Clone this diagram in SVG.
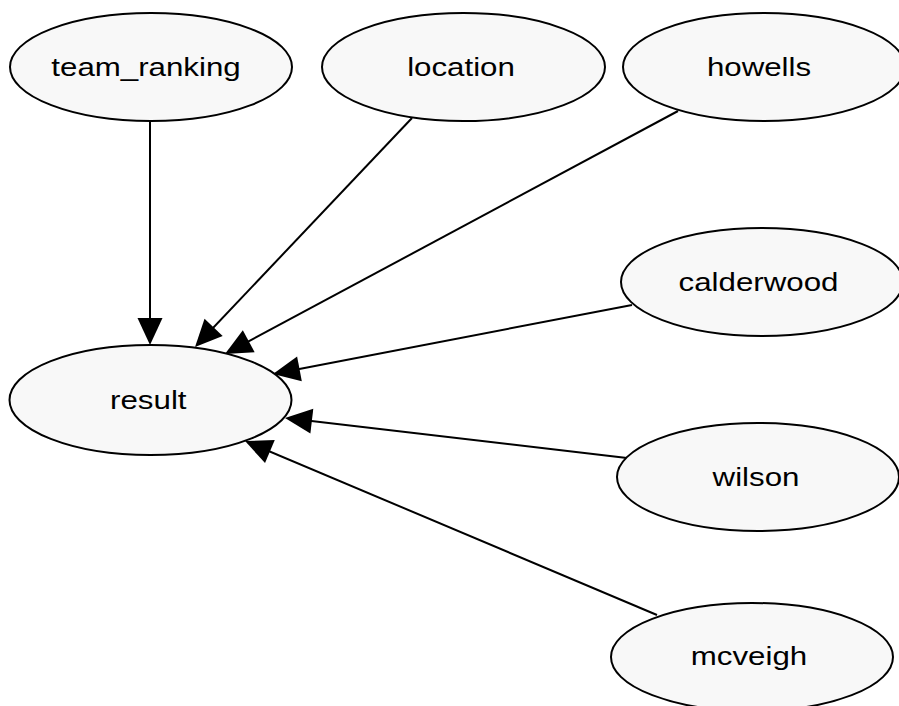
<svg xmlns="http://www.w3.org/2000/svg" width="899" height="706" viewBox="0 0 899 706">
  <style>
    .node ellipse { fill: #f8f8f8; stroke: #000; stroke-width: 2; }
    .node text { font-family: "Liberation Sans", Arial, sans-serif; font-size: 26.5px; fill: #000; text-anchor: middle; }
    .edge { fill: none; stroke: #000; stroke-width: 2; marker-end: url(#arrow); }
  </style>
  <defs>
    <marker id="arrow" markerUnits="userSpaceOnUse" markerWidth="30" markerHeight="30" refX="24" refY="12.5" orient="auto" overflow="visible">
      <path d="M0,0 L27,12.5 L0,25 Z" fill="#000"/>
    </marker>
  </defs>
  <rect width="899" height="706" fill="#fff"/>

  <g id="edges">
    <path class="edge" d="M150,121 L150,342"/>
    <path class="edge" d="M412,118 L197.1,344.8"/>
    <path class="edge" d="M678,111 L227.6,352.6"/>
    <path class="edge" d="M632,305 L275.9,373.4"/>
    <path class="edge" d="M627,458 L288,418.3"/>
    <path class="edge" d="M657,615 L247.8,442.2"/>
  </g>

  <g id="team_ranking" class="node">
    <ellipse cx="151" cy="67" rx="141" ry="54"/>
    <text transform="translate(146,76) scale(1.18,1)">team_ranking</text>
  </g>
  <g id="location" class="node">
    <ellipse cx="463.5" cy="67" rx="141.5" ry="54"/>
    <text transform="translate(461,76) scale(1.18,1)">location</text>
  </g>
  <g id="howells" class="node">
    <ellipse cx="764" cy="67" rx="141" ry="54"/>
    <text transform="translate(759,76) scale(1.18,1)">howells</text>
  </g>
  <g id="calderwood" class="node">
    <ellipse cx="762" cy="282" rx="141" ry="54"/>
    <text transform="translate(758.5,291) scale(1.18,1)">calderwood</text>
  </g>
  <g id="result" class="node">
    <ellipse cx="150.5" cy="400" rx="141" ry="55"/>
    <text transform="translate(148.3,409.3) scale(1.18,1)">result</text>
  </g>
  <g id="wilson" class="node">
    <ellipse cx="758" cy="477" rx="141" ry="54"/>
    <text transform="translate(756,486) scale(1.18,1)">wilson</text>
  </g>
  <g id="mcveigh" class="node">
    <ellipse cx="752" cy="657" rx="141" ry="54"/>
    <text transform="translate(749,665) scale(1.18,1)">mcveigh</text>
  </g>
</svg>
